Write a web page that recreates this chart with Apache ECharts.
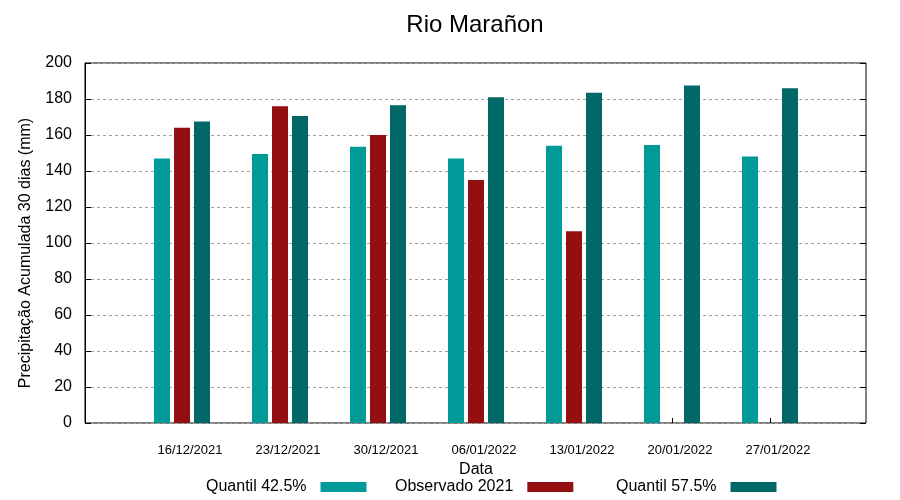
<!DOCTYPE html>
<html>
<head>
<meta charset="utf-8">
<script src="https://cdn.jsdelivr.net/npm/echarts@6/dist/echarts.min.js"></script>
<style>
html,body{margin:0;padding:0;background:#fff;}
#chart{width:900px;height:500px;}
</style>
</head>
<body>
<div id="chart"></div>
<script>
const categories = ['16/12/2021','23/12/2021','30/12/2021','06/01/2022','13/01/2022','20/01/2022','27/01/2022'];
const quantil425 = [147, 149.5, 153.5, 147, 154, 154.5, 148];
const observado2021 = [164, 176, 160, 135, 106.5, null, null];
const quantil575 = [167.5, 170.5, 176.5, 181, 183.5, 187.5, 186];
const seriesNames = ['Quantil 42.5%', 'Observado 2021', 'Quantil 57.5%'];
const colors = ['#009b99', '#940f0f', '#006866'];

const font = 'Liberation Sans, Arial, sans-serif';
const chart = echarts.init(document.getElementById('chart'));

const legendLefts = [201, 390, 611];

chart.setOption({
  animation: false,
  backgroundColor: '#fff',
  textStyle: { fontFamily: font },
  title: {
    text: 'Rio Marañon',
    left: 470, top: 8, textAlign: 'center',
    textStyle: { fontFamily: font, fontSize: 24, fontWeight: 'normal', color: '#000' }
  },
  legend: seriesNames.map((n, i) => ({
    data: [n],
    left: legendLefts[i], top: 474,
    align: 'right',
    itemWidth: 46, itemHeight: 10,
    icon: 'rect',
    textStyle: { fontFamily: font, fontSize: 16, color: '#000', padding: [0, 9, 0, 0] }
  })),
  grid: [
    { left: 85, right: 34, top: 63, bottom: 77, show: true, borderColor: '#000', borderWidth: 1, backgroundColor: 'transparent' },
    { left: 133, right: 81, top: 63, bottom: 77 }
  ],
  xAxis: [
    { gridIndex: 0, type: 'value', min: 0, max: 1, show: false },
    {
      gridIndex: 1, type: 'category', data: categories,
      name: 'Data', nameLocation: 'middle', nameGap: 36,
      nameTextStyle: { fontFamily: font, fontSize: 16, color: '#000' },
      axisLine: { show: false },
      axisTick: { show: true, inside: true, length: 5, alignWithLabel: true, lineStyle: { color: '#000' } },
      axisLabel: { fontFamily: font, fontSize: 13, color: '#000', margin: 21, padding: [0, 0, 0, 16] },
      splitLine: { show: false }
    }
  ],
  yAxis: [
    {
      gridIndex: 0, type: 'value', min: 0, max: 200, interval: 20,
      name: 'Precipitação Acumulada 30 dias (mm)', nameLocation: 'middle', nameGap: 51,
      nameTextStyle: { fontFamily: font, fontSize: 16, color: '#000', padding: [0, 20, 0, 0] },
      axisLine: { show: true, lineStyle: { color: '#000' } },
      axisTick: { show: true, inside: true, length: 6, lineStyle: { color: '#000' } },
      axisLabel: { fontFamily: font, fontSize: 16, color: '#000', margin: 13 },
      splitLine: { show: true, lineStyle: { color: '#a0a0a0', type: [3, 3], width: 1 } }
    },
    {
      gridIndex: 0, type: 'value', min: 0, max: 200, interval: 20, position: 'right',
      axisLine: { show: false },
      axisTick: { show: true, inside: true, length: 6, lineStyle: { color: '#000' } },
      axisLabel: { show: false }, splitLine: { show: false }
    },
    { gridIndex: 1, type: 'value', min: 0, max: 200, show: false }
  ],
  series: [quantil425, observado2021, quantil575].map((d, i) => ({
    name: seriesNames[i],
    type: 'bar',
    xAxisIndex: 1, yAxisIndex: 2,
    data: d,
    barWidth: 16,
    barGap: '25%',
    itemStyle: { color: colors[i] }
  }))
});
</script>
</body>
</html>
